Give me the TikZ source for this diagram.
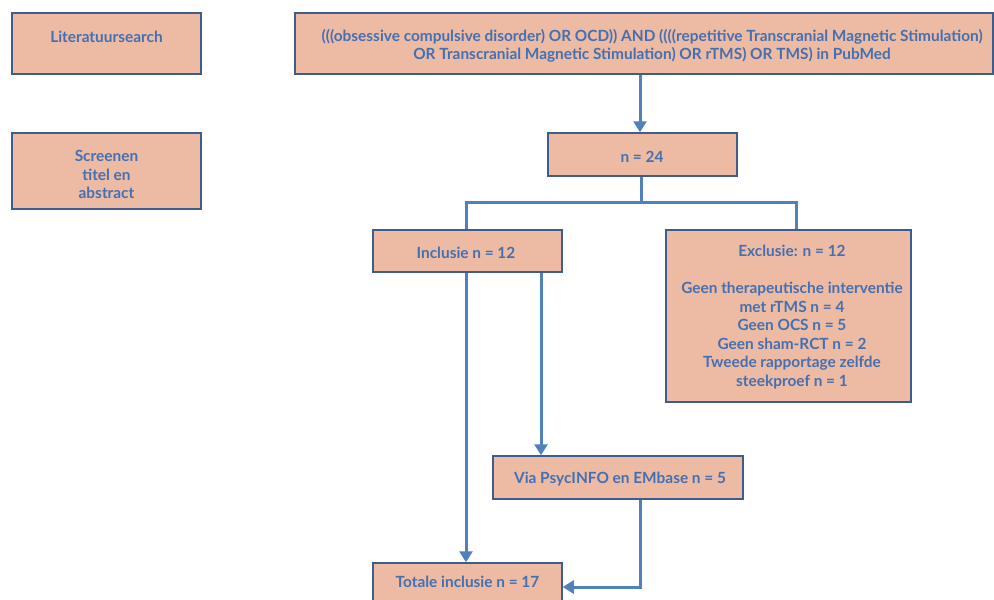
\documentclass[tikz,border=0pt]{standalone}
\usepackage{fontspec}
\setmainfont{Lato}
\usetikzlibrary{arrows.meta}
\definecolor{boxfill}{HTML}{EDBBA3}
\definecolor{boxline}{HTML}{3E5C8E}
\definecolor{txtblue}{HTML}{4470B2}
\definecolor{conn}{HTML}{4F81BD}
\tikzset{
  box/.style={draw=boxline, fill=boxfill, line width=1.5pt, rectangle, inner sep=0pt},
  txt/.style={text=txtblue, font=\fontsize{15.4}{18.5}\selectfont\bfseries, align=center, inner sep=0pt},
  conline/.style={draw=conn, line width=3pt},
  arr/.style={conline, -{Triangle[width=13pt,length=11pt]}},
}
\begin{document}
\begin{tikzpicture}[x=1pt,y=-1pt]
\useasboundingbox (0,0) rectangle (994,600);
\clip (0,0) rectangle (994,600);
% boxes
\node[box, minimum width=189pt, minimum height=61pt] (lit) at (106.5,43.5) {};
\node[txt] at (106.5,37) {Literatuursearch};
\node[box, minimum width=698pt, minimum height=61pt] (query) at (644,43.5) {};
\node[txt] at (652,46) {(((obsessive compulsive disorder) OR OCD)) AND ((((repetitive Transcranial Magnetic Stimulation)\\OR Transcranial Magnetic Stimulation) OR rTMS) OR TMS) in PubMed};
\node[box, minimum width=189pt, minimum height=76pt] (scr) at (106.5,171) {};
\node[txt] at (106.5,174.5) {Screenen\\titel en\\abstract};
\node[box, minimum width=189pt, minimum height=43pt] (n24) at (642.5,154.5) {};
\node[txt] at (642,157) {n = 24};
\node[box, minimum width=189pt, minimum height=42pt] (incl) at (467.5,251) {};
\node[txt] at (466,253) {Inclusie n = 12};
\node[box, minimum width=245pt, minimum height=172pt] (excl) at (788.5,316) {};
\node[txt] at (792,317) {Exclusie: n = 12\\[18.5pt]Geen therapeutische interventie\\met rTMS n = 4\\Geen OCS n = 5\\Geen sham-RCT n = 2\\Tweede rapportage zelfde\\steekproef n = 1};
\node[box, minimum width=250pt, minimum height=43pt] (via) at (618,477.5) {};
\node[txt] at (620,479) {Via PsycINFO en EMbase n = 5};
\node[box, minimum width=189pt, minimum height=50pt] (tot) at (467.5,588) {};
\node[txt] at (467.5,582) {Totale inclusie n = 17};
% connectors
\coordinate (split) at (641,202);
\draw[arr] (query.south -| 640,0) -- (n24.north -| 640,0);
\draw[conline] (n24.south -| 641,0) -- (split);
\draw[conline] (466,202 |- incl.north) -- (466,202) -- (796,202) -- (796,202 |- excl.north);
\draw[arr] (incl.south -| 466,0) -- (tot.north -| 466,0);
\draw[arr] (incl.south -| 541,0) -- (via.north -| 541,0);
\draw[arr] (via.south -| 640,0) -- (640,587) -- (tot.east |- 0,587);
\end{tikzpicture}
\end{document}
